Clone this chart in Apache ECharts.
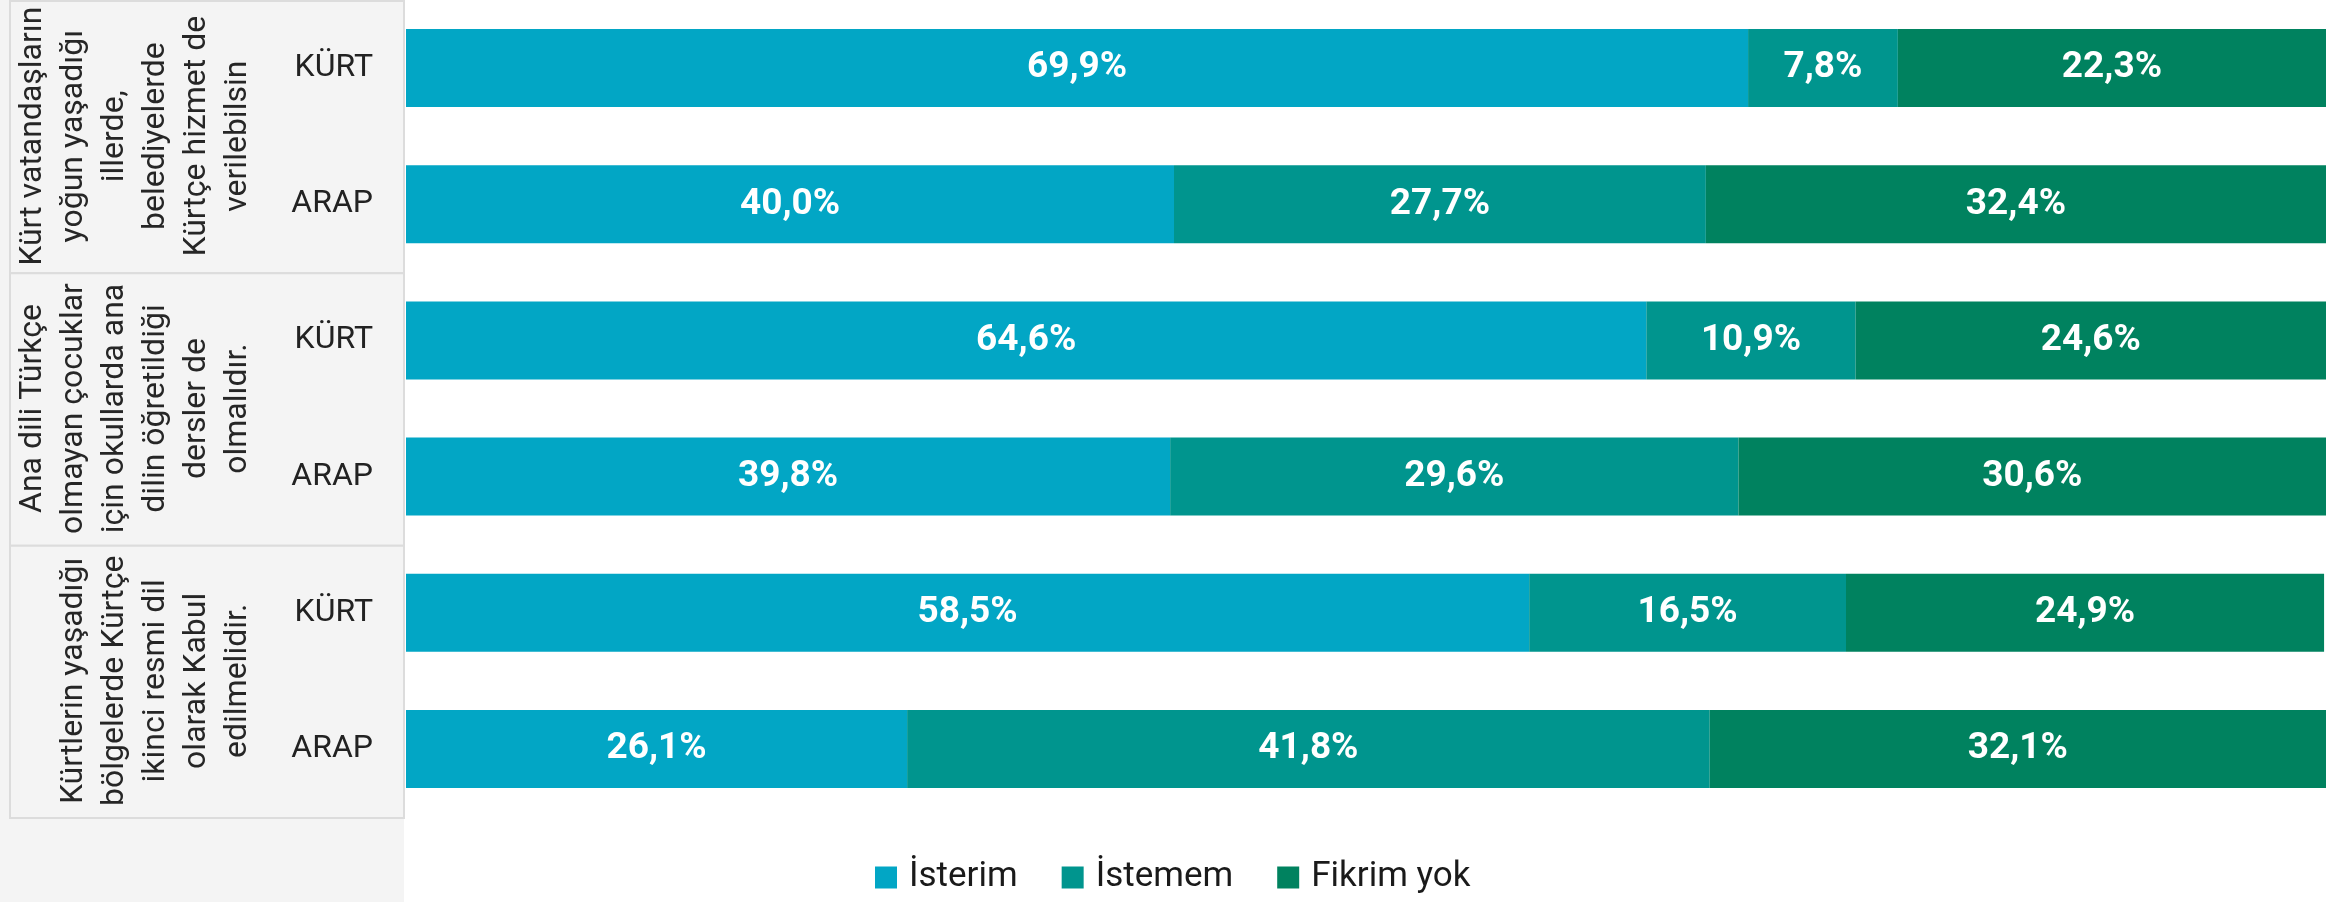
<!DOCTYPE html>
<html>
<head>
<meta charset="utf-8">
<title>Kürtçe ve Arapça tutumlar</title>
<script src="https://cdn.jsdelivr.net/npm/echarts@6/dist/echarts.min.js"></script>
<style>
  html, body { margin: 0; padding: 0; background: #fff; }
  #chart { width: 2344px; height: 902px; }
</style>
</head>
<body>
<div id="chart"></div>
<script>
// satırlar (üstten alta)
const rowLabels = ['KÜRT', 'ARAP', 'KÜRT', 'ARAP', 'KÜRT', 'ARAP']
const groupLabels = [
  'Kürt vatandaşların\nyoğun yaşadığı\nillerde,\nbelediyelerde\nKürtçe hizmet de\nverilebilsin',
  'Ana dili Türkçe\nolmayan çocuklar\niçin okullarda ana\ndilin öğretildiği\ndersler de\nolmalıdır.',
  'Kürtlerin yaşadığı\nbölgelerde Kürtçe\nikinci resmi dil\nolarak Kabul\nedilmelidir.'
]
const names = ['İsterim', 'İstemem', 'Fikrim yok']
const isterim = [69.9, 40.0, 64.6, 39.8, 58.5, 26.1]
const istemem = [7.8, 27.7, 10.9, 29.6, 16.5, 41.8]
const fikrimYok = [22.3, 32.4, 24.6, 30.6, 24.9, 32.1]

const colors = ['#02a6c5', '#00958e', '#00825f']
const FONT = 'Roboto, "Noto Sans", sans-serif'

// grid bounds in px
const gridLeft = 406
const gridRight = 18
const gridTop = 0
const gridBottom = 85
const panelRight = 404

const chart = echarts.init(document.getElementById('chart'), null, { renderer: 'canvas' })

const fmt = p => p.value.toFixed(1).replace('.', ',') + '%'

const values = [isterim, istemem, fikrimYok]

const series = names.map((name, i) => ({
  name,
  type: 'bar',
  stack: 'total',
  barWidth: 78,
  data: values[i],
  itemStyle: { color: colors[i] },
  label: {
    show: true,
    position: 'inside',
    color: '#fff',
    fontFamily: FONT,
    fontWeight: 'bold',
    fontSize: 37,
    formatter: fmt
  },
  emphasis: { disabled: true }
}))

// left panel boxes
const plotH = 902 - gridTop - gridBottom
const groupH = plotH / groupLabels.length
const boxes = groupLabels.map((g, i) => ({
  type: 'rect',
  z: -5,
  shape: { x: 10, y: gridTop + i * groupH + 1, width: panelRight - 10, height: groupH },
  style: { fill: '#f4f4f4', stroke: '#dcdcdc', lineWidth: 2 }
}))

const option = {
  animation: false,
  backgroundColor: '#fff',
  color: colors,
  grid: { left: gridLeft, right: gridRight, top: gridTop, bottom: gridBottom, containLabel: false },
  legend: {
    data: names,
    left: 875,
    top: 860,
    padding: 0,
    itemWidth: 22,
    itemHeight: 22,
    itemGap: 44,
    icon: 'rect',
    textStyle: { fontFamily: FONT, fontSize: 35, color: '#1a1a1a', padding: [0, 0, 0, 7] }
  },
  xAxis: {
    type: 'value',
    min: 0,
    max: 100,
    show: false
  },
  yAxis: [
    {
      type: 'category',
      data: rowLabels,
      inverse: true,
      axisLine: { show: false },
      axisTick: { show: false },
      axisLabel: {
        interval: 0,
        margin: 33,
        fontFamily: FONT,
        fontSize: 32,
        color: '#222'
      }
    },
    {
      type: 'category',
      data: groupLabels,
      inverse: true,
      position: 'left',
      offset: 148,
      axisLine: { show: false },
      axisTick: { show: false },
      axisLabel: {
        interval: 0,
        margin: 0,
        rotate: 90,
        align: 'center',
        verticalAlign: 'bottom',
        lineHeight: 41,
        fontFamily: FONT,
        fontSize: 32,
        color: '#262626'
      }
    }
  ],
  graphic: [
    {
      type: 'rect',
      z: -10,
      shape: { x: 0, y: 0, width: panelRight, height: 902 },
      style: { fill: '#f4f4f4' }
    },
    ...boxes
  ],
  series
}

chart.setOption(option)
window.addEventListener('resize', () => chart.resize())
</script>
</body>
</html>
